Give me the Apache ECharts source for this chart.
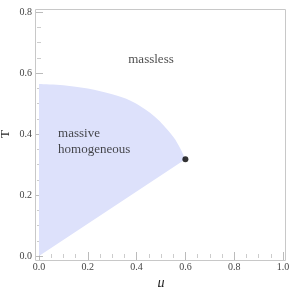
<!DOCTYPE html>
<html><head><meta charset="utf-8">
<script src="https://cdn.jsdelivr.net/npm/echarts@6/dist/echarts.min.js"></script>
<style>html,body{margin:0;padding:0;background:#fff}#c{width:293px;height:287px}</style>
</head><body><div id="c"></div>
<script>
// Upper boundary of the massive homogeneous region (mu, T)
const upperMu = [0, 0.1, 0.2, 0.3, 0.373, 0.414, 0.455, 0.496, 0.55, 0.578, 0.6];
const upperT  = [0.564, 0.560, 0.549, 0.530, 0.510, 0.492, 0.470, 0.441, 0.391, 0.354, 0.317];
// Lower boundary (straight line from origin to critical point)
const lowerMu = [0, 0.6];
const lowerT  = [0, 0.317];
// Critical point
const pointMu = [0.6];
const pointT  = [0.317];
// Region labels
const labelText = ['massless', 'massive', 'homogeneous'];
const labelMu = [0.459, 0.078, 0.078];
const labelT  = [0.643, 0.403, 0.348];
const xTicks = [0, 0.2, 0.4, 0.6, 0.8, 1.0];
const yTicks = [0, 0.2, 0.4, 0.6, 0.8];

const chart = echarts.init(document.getElementById('c'));
const serif = '"Liberation Serif", "DejaVu Serif", serif';
const tickCol = '#aaa';
function axisBase(extra){
  return Object.assign({
    type:'value', splitLine:{show:false},
    axisLine:{show:false},
    axisTick:{show:true, inside:true, length:4, lineStyle:{color:tickCol, width:0.8}},
    minorTick:{show:true, splitNumber:4, length:2, lineStyle:{color:tickCol, width:0.6}},
    axisLabel:{show:false}
  }, extra);
}

// Smooth path through upper boundary (Catmull-Rom in pixel space), closed by straight lower line
function buildPath(api){
  const up = upperMu.map((m,i)=>api.coord([m, upperT[i]]));
  const lo = lowerMu.map((m,i)=>api.coord([m, lowerT[i]]));
  let d = 'M' + lo[0][0] + ' ' + lo[0][1] + ' L' + up[0][0] + ' ' + up[0][1];
  for (let i=0;i<up.length-1;i++){
    const p0 = up[Math.max(0,i-1)], p1 = up[i], p2 = up[i+1], p3 = up[Math.min(up.length-1,i+2)];
    const c1 = [p1[0]+(p2[0]-p0[0])/6, p1[1]+(p2[1]-p0[1])/6];
    const c2 = [p2[0]-(p3[0]-p1[0])/6, p2[1]-(p3[1]-p1[1])/6];
    d += ' C'+c1[0]+' '+c1[1]+' '+c2[0]+' '+c2[1]+' '+p2[0]+' '+p2[1];
  }
  for (let i=lo.length-1;i>=0;i--) d += ' L' + lo[i][0] + ' ' + lo[i][1];
  return d + ' Z';
}

chart.setOption({
  animation:false,
  grid:{left:39, right:10, top:12, bottom:31, containLabel:false, outerBoundsMode:'none'},
  xAxis:[
    axisBase({min:0, max:1, interval:0.2, position:'bottom', offset:4,
      name:'μ', nameLocation:'middle', nameGap:16, nameMoveOverlap:false,
      nameTextStyle:{fontFamily:serif, fontStyle:'italic', fontSize:14, color:'#222'},
      axisLabel:{show:true, fontFamily:serif, fontSize:10, color:'#444', margin:2,
        formatter:v=>v.toFixed(1)}}),
    axisBase({min:0, max:1, interval:0.2, position:'top', offset:3})
  ],
  yAxis:[
    axisBase({min:0, max:0.8, interval:0.2, position:'left', offset:4,
      name:'T', nameLocation:'middle', nameGap:23, nameRotate:90, nameMoveOverlap:false,
      nameTextStyle:{fontFamily:serif, fontSize:13, color:'#222'},
      axisLabel:{show:true, fontFamily:serif, fontSize:10, color:'#444', margin:3,
        formatter:v=>v.toFixed(1)}}),
    axisBase({min:0, max:0.8, interval:0.2, position:'right', offset:3})
  ],
  series:[
    {type:'custom', xAxisIndex:0, yAxisIndex:0, data:[[0,0]], silent:true, z:1,
      renderItem:function(params, api){
        return {type:'path', shape:{pathData:buildPath(api)},
          style:{fill:'#dde1fb', stroke:null}};
      }},
    {type:'scatter', data:pointMu.map((m,i)=>[m, pointT[i]]), symbolSize:6,
      itemStyle:{color:'#000'}, z:5, silent:true},
    {type:'scatter', symbolSize:0, silent:true, z:6,
      data:labelText.map((t,i)=>({value:[labelMu[i], labelT[i]], name:t,
        label:{show:true, formatter:t, position:'inside',
          align: i===0 ? 'center' : 'left', verticalAlign:'middle',
          fontFamily:serif, fontSize:13, color:'#1a1a1a'}}))}
  ],
  graphic:[{type:'rect', shape:{x:35.5, y:9.5, width:250, height:251},
    style:{fill:null, stroke:'#c8c8c8', lineWidth:1}, z:10, silent:true}]
});
</script></body></html>
